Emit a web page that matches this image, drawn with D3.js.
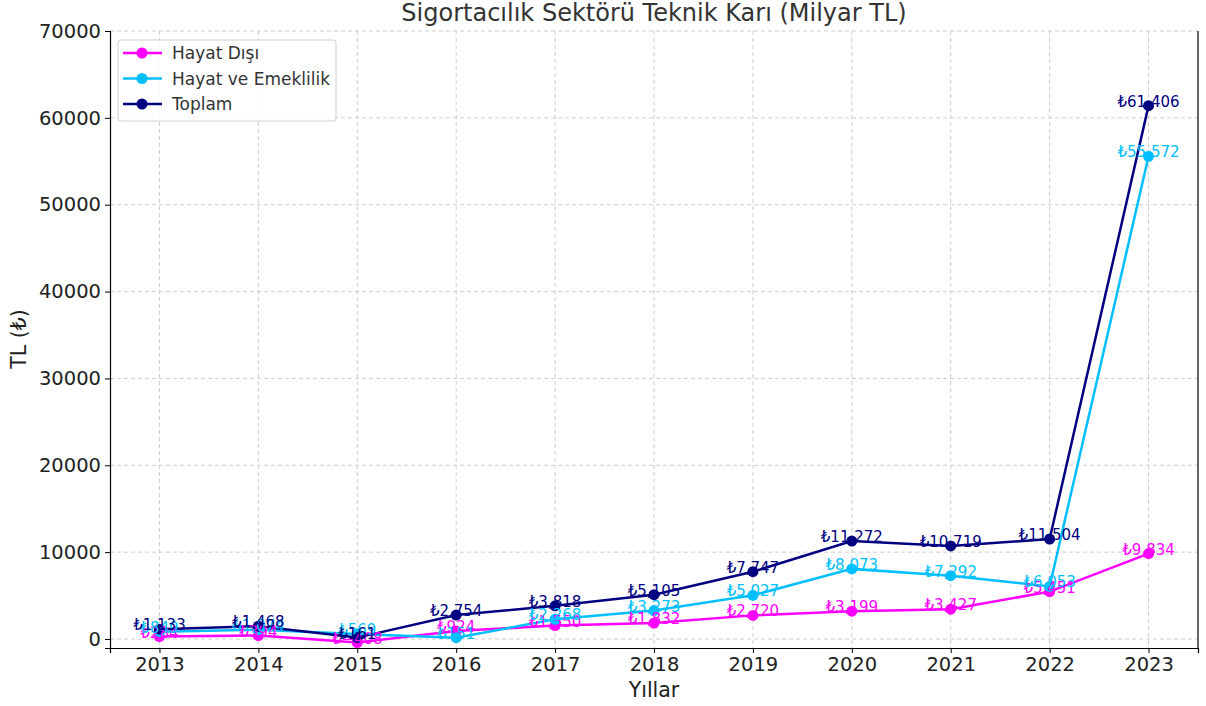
<!DOCTYPE html>
<meta charset="utf-8">
<style>
body { margin: 0; background: #fff; }
text { font-family: "DejaVu Sans", sans-serif; }
</style>
<svg width="1206" height="706"></svg>
<script src="https://d3js.org/d3.v7.min.js"></script>
<script>

var years = [2013, 2014, 2015, 2016, 2017, 2018, 2019, 2020, 2021, 2022, 2023];
var hayatDisi = [284, 394, -408, 924, 1550, 1832, 2720, 3199, 3427, 5451, 9834];
var hayatEmeklilik = [849, 1074, 569, 151, 2268, 3273, 5027, 8073, 7292, 6053, 55572];
var toplam = [1133, 1468, 161, 2754, 3818, 5105, 7747, 11272, 10719, 11504, 61406];
var yTicks = [0, 10000, 20000, 30000, 40000, 50000, 60000, 70000];

var series = [
    {name: "Hayat Dışı", values: hayatDisi, color: "#ff00ff"},
    {name: "Hayat ve Emeklilik", values: hayatEmeklilik, color: "#00bfff"},
    {name: "Toplam", values: toplam, color: "#000080"}
];

var svg = d3.select("svg"),
    pLeft = 110, pRight = 1198, pTop = 31, pBottom = 648;

var x = d3.scaleLinear().domain([2012.5, 2023.5]).range([pLeft, pRight]);
var y = d3.scaleLinear().domain([-1036, 70000]).range([pBottom, pTop]);

// grid
svg.append("g").selectAll("line").data(years).enter().append("line")
    .attr("x1", d => x(d)).attr("x2", d => x(d))
    .attr("y1", pTop).attr("y2", pBottom)
    .attr("stroke", "#c8c8c8").attr("stroke-dasharray", "4,3").attr("stroke-width", 0.9);
svg.append("g").selectAll("line").data(yTicks).enter().append("line")
    .attr("x1", pLeft).attr("x2", pRight)
    .attr("y1", d => y(d)).attr("y2", d => y(d))
    .attr("stroke", "#c8c8c8").attr("stroke-dasharray", "4,3").attr("stroke-width", 0.9);

// axes
var xAxis = svg.append("g").attr("transform", "translate(0," + pBottom + ")")
    .call(d3.axisBottom(x).tickValues(years).tickFormat(d3.format("d")).tickSizeOuter(0).tickSize(5).tickPadding(4));
var yAxis = svg.append("g").attr("transform", "translate(" + pLeft + ",0)")
    .call(d3.axisLeft(y).tickValues(yTicks).tickFormat(d3.format("d")).tickSizeOuter(0).tickSize(5).tickPadding(4));
[xAxis, yAxis].forEach(function(a){
    a.selectAll("text").attr("font-size", 19.5).attr("fill", "#222").attr("font-family", "DejaVu Sans");
    a.select(".domain").attr("stroke", "#000").attr("stroke-width", 1.2);
    a.selectAll(".tick line").attr("stroke", "#000");
});
svg.append("line").attr("x1", pRight).attr("x2", pRight).attr("y1", pTop).attr("y2", pBottom)
    .attr("stroke", "#000").attr("stroke-width", 1.2);

// lines + points
var line = d3.line().x((d, i) => x(years[i])).y(d => y(d));
series.forEach(function(s){
    svg.append("path").datum(s.values).attr("d", line)
        .attr("fill", "none").attr("stroke", s.color).attr("stroke-width", 2.5);
    svg.append("g").selectAll("circle").data(s.values).enter().append("circle")
        .attr("cx", (d, i) => x(years[i])).attr("cy", d => y(d)).attr("r", 5.5)
        .attr("fill", s.color);
});
// labels
var fmt = d3.format(",");
series.forEach(function(s){
    svg.append("g").selectAll("text").data(s.values).enter().append("text")
        .attr("x", (d, i) => x(years[i])).attr("y", d => y(d) + 1)
        .attr("text-anchor", "middle").attr("font-size", 15)
        .attr("fill", s.color)
        .text(d => "₺" + fmt(d));
});

// titles
svg.append("text").attr("x", 654).attr("y", 21).attr("text-anchor", "middle")
    .attr("font-size", 24).attr("fill", "#333").text("Sigortacılık Sektörü Teknik Karı (Milyar TL)");
svg.append("text").attr("x", 654).attr("y", 697).attr("text-anchor", "middle")
    .attr("font-size", 20.5).attr("fill", "#222").text("Yıllar");
svg.append("text").attr("transform", "translate(26,339) rotate(-90)").attr("text-anchor", "middle")
    .attr("font-size", 20.5).attr("fill", "#222").text("TL (₺)");

// legend
var lg = svg.append("g");
lg.append("rect").attr("x", 118).attr("y", 40).attr("width", 218).attr("height", 81).attr("rx", 3)
    .attr("fill", "#fff").attr("fill-opacity", 0.8).attr("stroke", "#d0d0d0");
series.forEach(function(s, i){
    var yy = 53 + i * 25.5;
    lg.append("line").attr("x1", 123).attr("x2", 162).attr("y1", yy).attr("y2", yy)
        .attr("stroke", s.color).attr("stroke-width", 2.5);
    lg.append("circle").attr("cx", 142).attr("cy", yy).attr("r", 5.5).attr("fill", s.color);
    lg.append("text").attr("x", 172).attr("y", yy + 6).attr("font-size", 17).attr("fill", "#333").text(s.name);
});
</script>
